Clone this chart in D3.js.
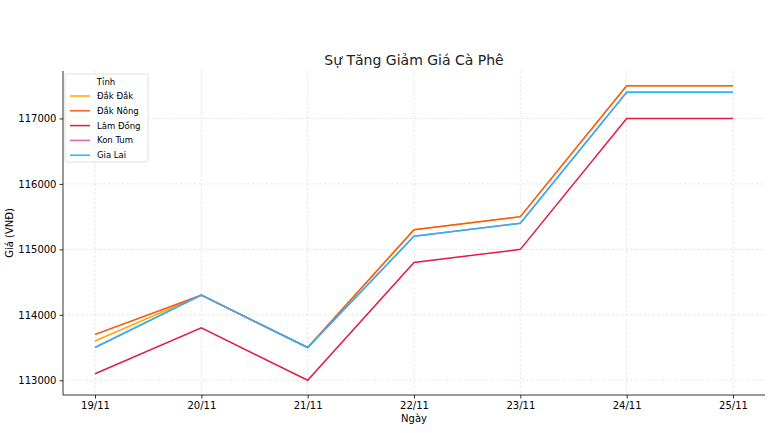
<!DOCTYPE html>
<html>
<head>
<meta charset="utf-8">
<script src="https://cdn.jsdelivr.net/npm/d3@7"></script>
<style>
  body { margin: 0; background: #fff; }
  text { font-family: "DejaVu Sans", sans-serif; }
</style>
</head>
<body>
<div id="chart"></div>
<script>
const days = ['19/11', '20/11', '21/11', '22/11', '23/11', '24/11', '25/11'];
const provinces = ['Đắk Đắk', 'Đắk Nông', 'Lâm Đồng', 'Kon Tum', 'Gia Lai'];
const colors = ['#ffa500', '#f0601a', '#e31a43', '#e75fb0', '#29b6f6'];
const dakLak = [113600, 114300, 113500, 115300, 115500, 117500, 117500];
const dakNong = [113700, 114300, 113500, 115300, 115500, 117500, 117500];
const lamDong = [113100, 113800, 113000, 114800, 115000, 117000, 117000];
const konTum = [113500, 114300, 113500, 115200, 115400, 117400, 117400];
const giaLai = [113500, 114300, 113500, 115200, 115400, 117400, 117400];
const yTicks = [113000, 114000, 115000, 116000, 117000];

const series = [dakLak, dakNong, lamDong, konTum, giaLai];

const width = 770, height = 433;
const margin = {left: 63, right: 5, top: 71, bottom: 38};

const svg = d3.select('#chart').append('svg')
    .attr('width', width)
    .attr('height', height);

// matplotlib style 5% margins
const x = d3.scalePoint()
    .domain(days)
    .range([95, 733]);

const yMin = 113000, yMax = 117500, pad = (yMax - yMin) * 0.05;
const y = d3.scaleLinear()
    .domain([yMin - pad, yMax + pad])
    .range([height - margin.bottom, margin.top]);

// grid
const grid = svg.append('g');
grid.selectAll('.vg').data(days).enter().append('line')
    .attr('x1', d => x(d)).attr('x2', d => x(d))
    .attr('y1', margin.top).attr('y2', height - margin.bottom)
    .attr('stroke', '#dcdcdc').attr('stroke-width', 0.7)
    .attr('stroke-dasharray', '2.5,2');
grid.selectAll('.hg').data(yTicks).enter().append('line')
    .attr('x1', margin.left).attr('x2', width - margin.right)
    .attr('y1', d => y(d)).attr('y2', d => y(d))
    .attr('stroke', '#dcdcdc').attr('stroke-width', 0.7)
    .attr('stroke-dasharray', '2.5,2');

// lines
const line = d3.line()
    .x((d, i) => x(days[i]))
    .y(d => y(d));

svg.selectAll('.series').data(series).enter().append('path')
    .attr('d', d => line(d))
    .attr('fill', 'none')
    .attr('stroke', (d, i) => colors[i])
    .attr('stroke-width', 1.5);

// axes
const xAxis = svg.append('g')
    .attr('transform', `translate(0,${height - margin.bottom})`)
    .call(d3.axisBottom(x).tickSizeOuter(0).tickSize(3.5).tickPadding(3));
xAxis.select('.domain').attr('d', `M${margin.left},0H${width - margin.right}`);

const yAxis = svg.append('g')
    .attr('transform', `translate(${margin.left},0)`)
    .call(d3.axisLeft(y).tickValues(yTicks).tickFormat(d3.format('d')).tickSizeOuter(0).tickSize(3.5).tickPadding(3));
yAxis.select('.domain').attr('d', `M0,${margin.top}V${height - margin.bottom}`);

svg.selectAll('.tick text').style('font-size', '10px').attr('fill', '#000');
svg.selectAll('.domain').attr('stroke', '#000').attr('stroke-width', 0.8);
svg.selectAll('.tick line').attr('stroke', '#000').attr('stroke-width', 0.8);

// labels
svg.append('text')
    .attr('x', (margin.left + width - margin.right) / 2)
    .attr('y', 65)
    .attr('text-anchor', 'middle')
    .style('font-size', '14px')
    .attr('fill', '#222')
    .text('Sự Tăng Giảm Giá Cà Phê');

svg.append('text')
    .attr('x', (margin.left + width - margin.right) / 2)
    .attr('y', 422)
    .attr('text-anchor', 'middle')
    .style('font-size', '10px')
    .text('Ngày');

svg.append('text')
    .attr('transform', `translate(13,${(margin.top + height - margin.bottom) / 2}) rotate(-90)`)
    .attr('text-anchor', 'middle')
    .style('font-size', '10px')
    .text('Giá (VNĐ)');

// legend
const legend = svg.append('g').attr('transform', 'translate(65,74)');
legend.append('rect')
    .attr('width', 83).attr('height', 88)
    .attr('rx', 2)
    .attr('fill', '#fff').attr('fill-opacity', 0.8)
    .attr('stroke', '#d8d8d8').attr('stroke-width', 0.8);
legend.append('text')
    .attr('x', 41).attr('y', 11)
    .attr('text-anchor', 'middle')
    .style('font-size', '8.5px')
    .text('Tỉnh');
const items = legend.selectAll('.item').data(provinces).enter().append('g')
    .attr('transform', (d, i) => `translate(0,${22 + i * 14.8})`);
items.append('line')
    .attr('x1', 5).attr('x2', 25)
    .attr('stroke', (d, i) => colors[i])
    .attr('stroke-width', 1.5);
items.append('text')
    .attr('x', 32).attr('y', 3)
    .style('font-size', '8.5px')
    .text(d => d);
</script>
</body>
</html>
